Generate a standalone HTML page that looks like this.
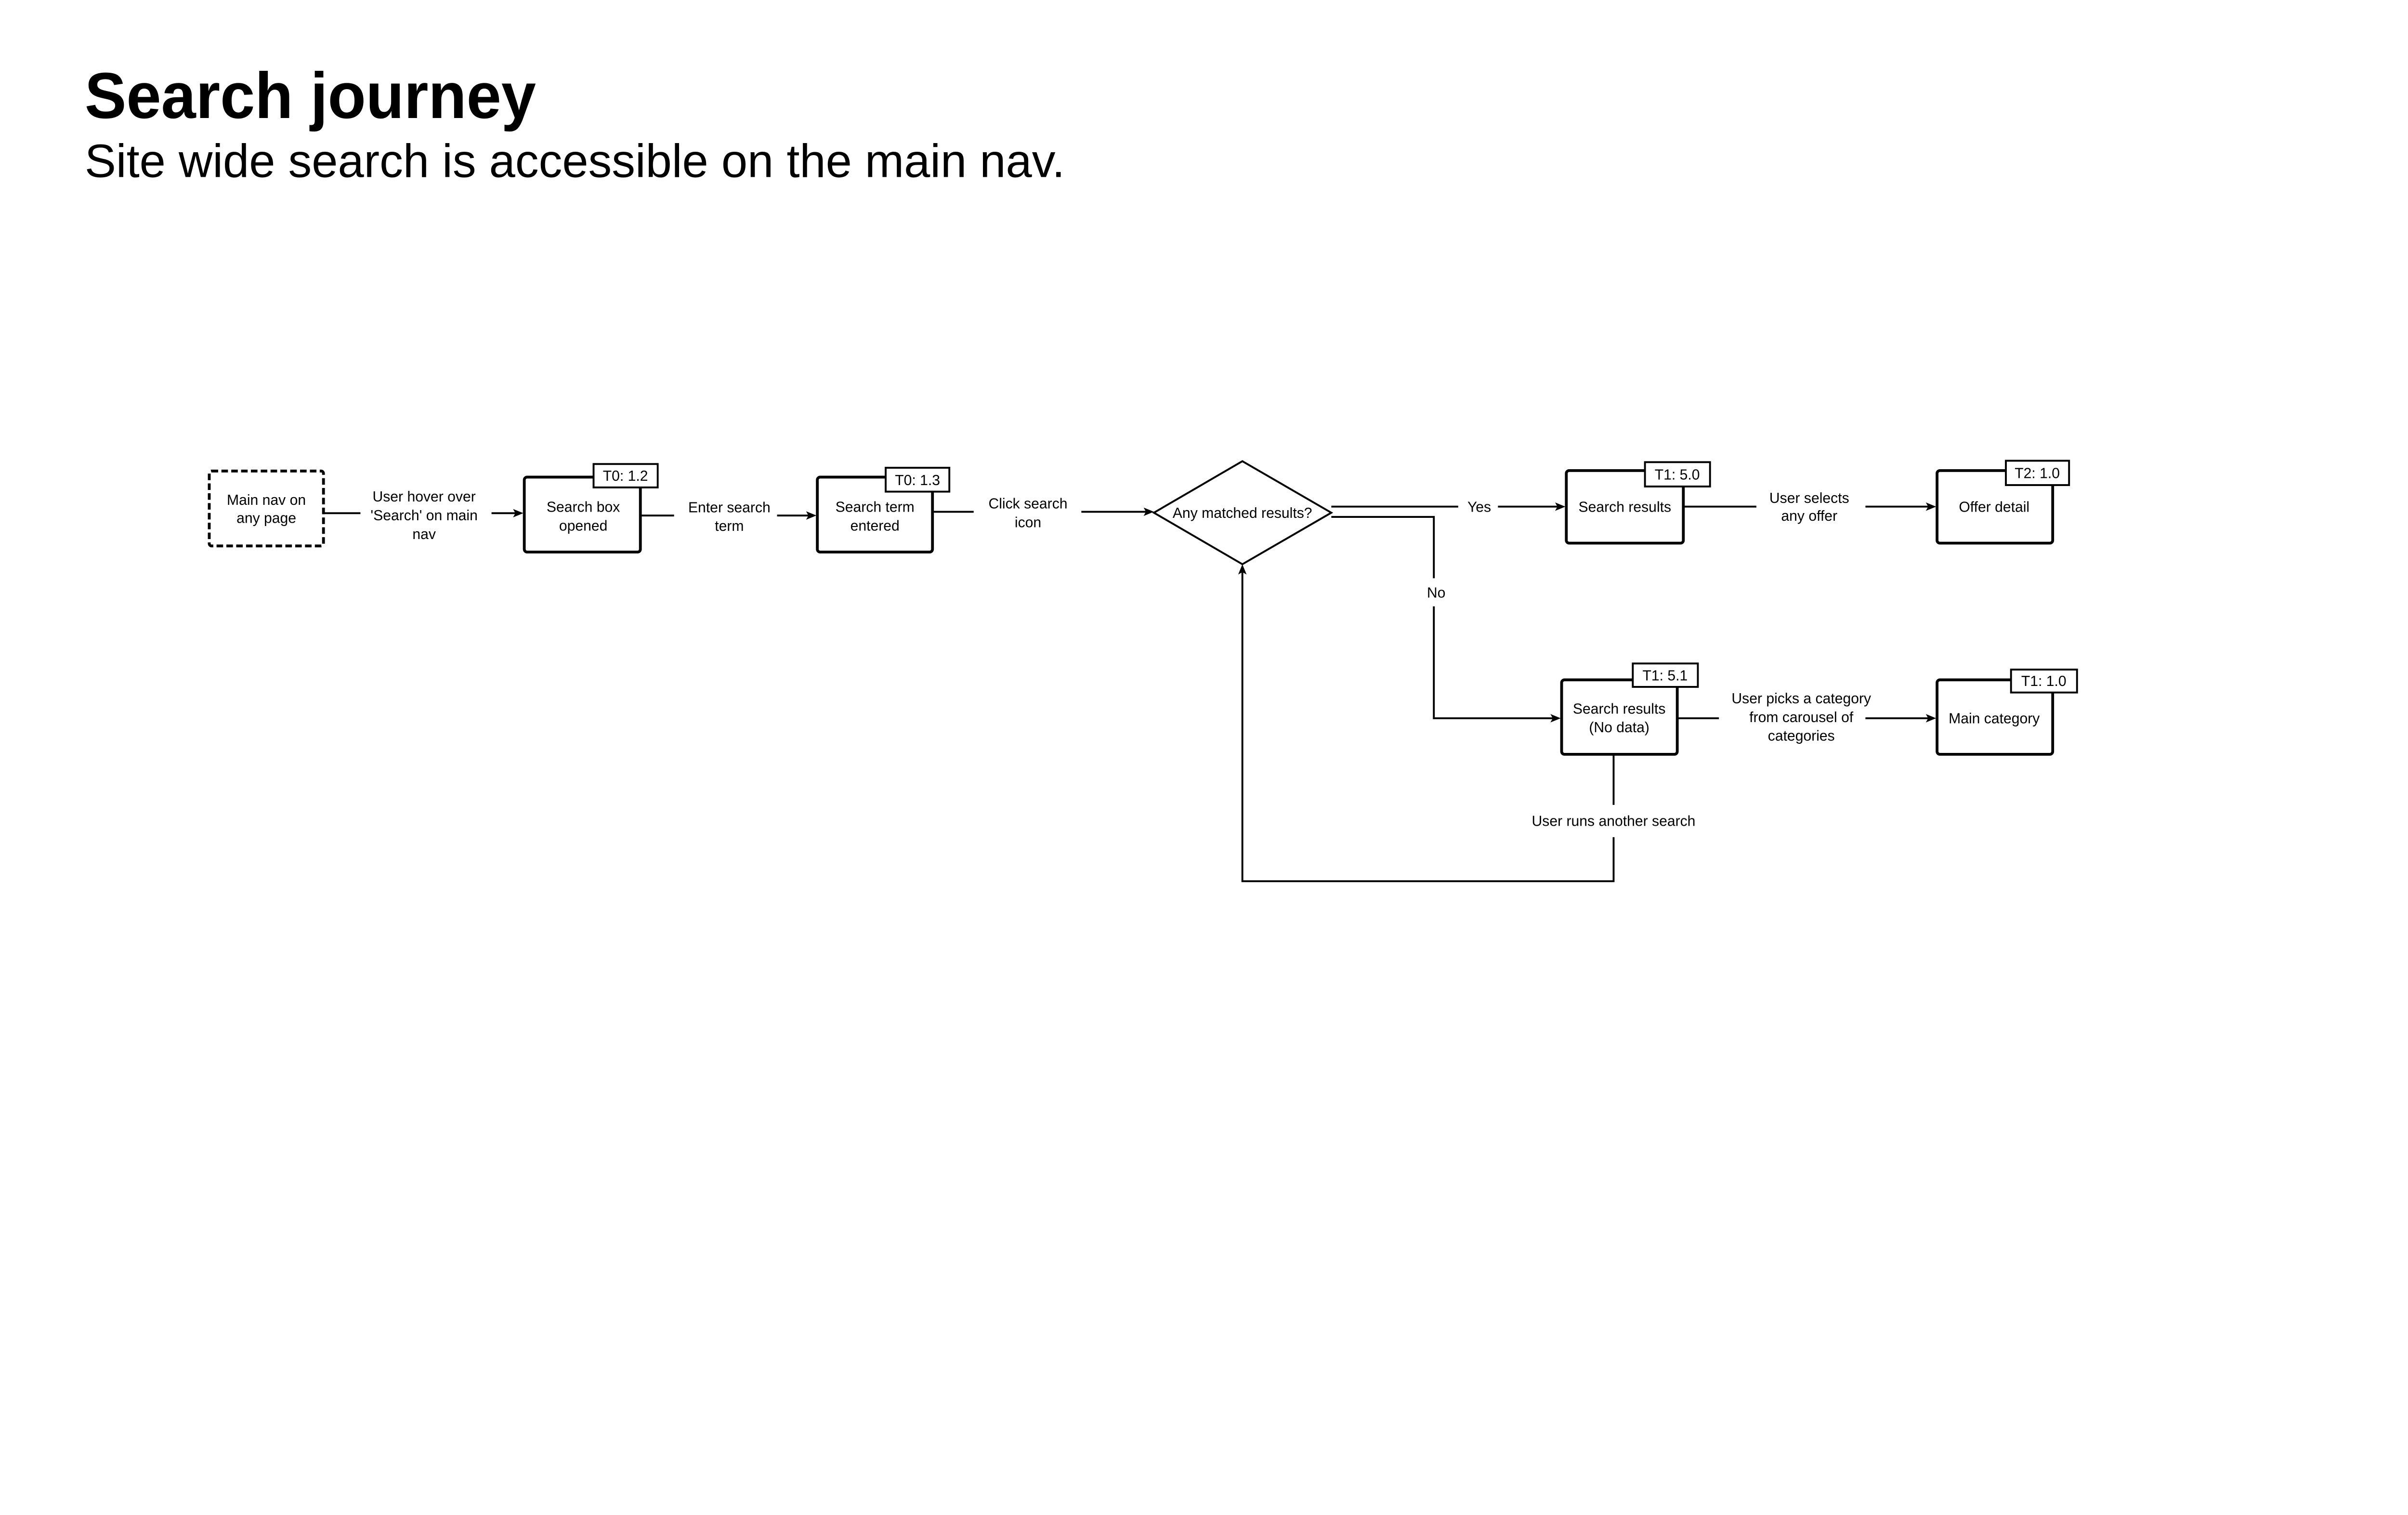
<!DOCTYPE html>
<html><head><meta charset="utf-8"><style>
html,body{margin:0;padding:0;background:#fff;}
svg{display:block;}
text{font-family:"Liberation Sans",Arial,sans-serif;fill:#000;}
</style></head><body>
<svg width="5133" height="3145" viewBox="0 0 5133 3145" xmlns="http://www.w3.org/2000/svg">
<g transform="scale(0.972)">
<text x="181" y="252" font-size="139" font-weight="bold" textLength="964" lengthAdjust="spacingAndGlyphs">Search journey</text>
<text x="181" y="378" font-size="100" textLength="2094" lengthAdjust="spacingAndGlyphs">Site wide search is accessible on the main nav.</text>

<g fill="none" stroke="#000" stroke-width="4">
<path d="M692 1096 H770"/>
<path d="M1050 1096 H1108"/>
<path d="M1368 1101 H1440"/>
<path d="M1660 1101 H1734"/>
<path d="M1992 1093 H2080"/>
<path d="M2310 1093 H2453"/>
<path d="M2844 1082 H3115"/>
<path d="M3200 1082 H3334"/>
<path d="M2844 1104 H3063 V1235"/>
<path d="M3063 1295 V1534 H3322"/>
<path d="M3596 1082 H3752"/>
<path d="M3985 1082 H4126"/>
<path d="M3583 1534 H3672"/>
<path d="M3985 1534 H4126"/>
<path d="M3447 1611 V1719"/>
<path d="M3447 1788 V1882 H2654 V1215"/>
</g>
<g fill="#000">
<path d="M1118 1096 l-22 -9 l5 9 l-5 9 z"/>
<path d="M1744 1101 l-22 -9 l5 9 l-5 9 z"/>
<path d="M2465 1093 l-22 -9 l5 9 l-5 9 z"/>
<path d="M3344 1082 l-22 -9 l5 9 l-5 9 z"/>
<path d="M4136 1082 l-22 -9 l5 9 l-5 9 z"/>
<path d="M3334 1534 l-22 -9 l5 9 l-5 9 z"/>
<path d="M4136 1534 l-22 -9 l5 9 l-5 9 z"/>
<path d="M2654 1205 l-9 22 l9 -5 l9 5 z"/>
</g>

<rect x="447" y="1006" width="244" height="160" rx="5" fill="#fff" stroke="#000" stroke-width="6" stroke-dasharray="14 7"/>
<g fill="#fff" stroke="#000" stroke-width="6">
<rect x="1120" y="1019" width="248" height="160" rx="6"/>
<rect x="1746" y="1019" width="246" height="160" rx="6"/>
<rect x="3346" y="1005" width="250" height="155" rx="6"/>
<rect x="4138" y="1005" width="247" height="155" rx="6"/>
<rect x="3336" y="1452" width="247" height="159" rx="6"/>
<rect x="4138" y="1452" width="247" height="159" rx="6"/>
</g>
<polygon points="2654,985 2844,1095 2654,1205 2465,1095" fill="#fff" stroke="#000" stroke-width="4"/>
<g fill="#fff" stroke="#000" stroke-width="4">
<rect x="1268" y="991" width="137" height="50"/>
<rect x="1892" y="999" width="136" height="51"/>
<rect x="3514" y="987" width="139" height="52"/>
<rect x="4285" y="984" width="135" height="52"/>
<rect x="3488" y="1417" width="139" height="50"/>
<rect x="4296" y="1430" width="141" height="49"/>
</g>
<g font-size="31" text-anchor="middle">
<text x="1336" y="1027">T0: 1.2</text>
<text x="1960" y="1036">T0: 1.3</text>
<text x="3583" y="1024">T1: 5.0</text>
<text x="4352" y="1021">T2: 1.0</text>
<text x="3557" y="1453">T1: 5.1</text>
<text x="4366" y="1465">T1: 1.0</text>

<text x="569" y="1078">Main nav on</text>
<text x="569" y="1117">any page</text>
<text x="1246" y="1093">Search box</text>
<text x="1246" y="1133">opened</text>
<text x="1869" y="1093">Search term</text>
<text x="1869" y="1133">entered</text>
<text x="2654" y="1106">Any matched results?</text>
<text x="3471" y="1093">Search results</text>
<text x="4260" y="1093">Offer detail</text>
<text x="3459" y="1524">Search results</text>
<text x="3459" y="1564">(No data)</text>
<text x="4260" y="1545">Main category</text>

<text x="906" y="1071">User hover over</text>
<text x="906" y="1111">'Search' on main</text>
<text x="906" y="1151">nav</text>
<text x="1558" y="1094">Enter search</text>
<text x="1558" y="1134">term</text>
<text x="2196" y="1086">Click search</text>
<text x="2196" y="1126">icon</text>
<text x="3160" y="1093">Yes</text>
<text x="3068" y="1276">No</text>
<text x="3865" y="1074">User selects</text>
<text x="3865" y="1112">any offer</text>
<text x="3848" y="1502">User picks a category</text>
<text x="3848" y="1542">from carousel of</text>
<text x="3848" y="1582">categories</text>
<text x="3447" y="1764">User runs another search</text>
</g>
</g>
</svg>
</body></html>
